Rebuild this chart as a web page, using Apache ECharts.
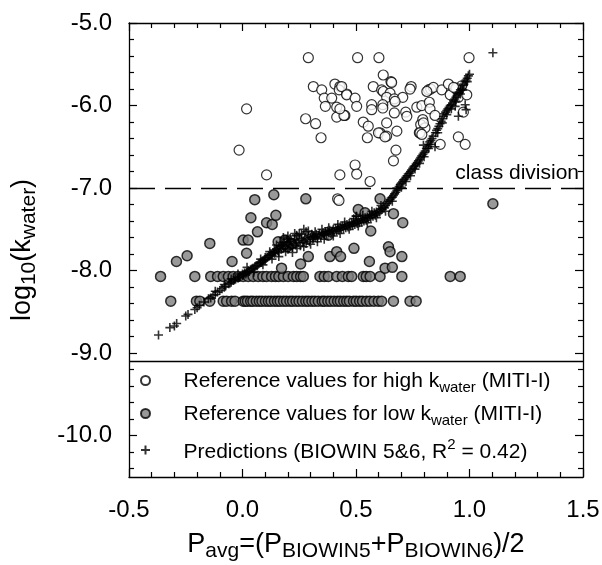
<!DOCTYPE html>
<html><head><meta charset="utf-8">
<script src="https://cdn.jsdelivr.net/npm/echarts@6/dist/echarts.min.js"></script>
<style>html,body{margin:0;padding:0;background:#fff}#c{width:602px;height:565px}</style>
</head><body><div id="c"></div>
<script>
const FONT = 'Liberation Sans, Arial, Helvetica, sans-serif';

// axis ticks
const xRange = [-0.5, 1.5];
const yRange = [-10.5, -5.0];
const xMajorTicks = [-0.5, 0.0, 0.5, 1.0, 1.5];
const xMinorTicks = [-0.4, -0.3, -0.2, -0.1, 0.1, 0.2, 0.3, 0.4, 0.6, 0.7, 0.8, 0.9,
  1.1, 1.2, 1.3, 1.4];
const yMajorTicks = [-10, -9, -8, -7, -6, -5];
const yMinorTicks = [-10.4, -10.2, -9.8, -9.6, -9.4, -9.2, -8.8, -8.6, -8.4, -8.2,
  -7.8, -7.6, -7.4, -7.2, -6.8, -6.6, -6.4, -6.2, -5.8, -5.6, -5.4, -5.2];

// reference lines
const classDivision = -7.0;
const legendSeparator = -9.1;

// Reference values for high k_water (open circles)
const highK = [
  [0.290,-5.42],[0.507,-5.42],[0.601,-5.42],[0.998,-5.42],
  [0.312,-5.77],[0.349,-5.81],[0.360,-5.91],[0.365,-6.01],[0.393,-5.91],[0.407,-5.74],
  [0.429,-5.77],[0.426,-5.81],[0.459,-5.86],[0.415,-6.02],[0.415,-6.14],[0.451,-6.12],
  [0.278,-6.16],[0.322,-6.22],[0.346,-6.39],
  [0.018,-6.04],[-0.015,-6.54],[0.106,-6.84],[0.429,-6.84],[0.419,-7.13],[0.425,-7.15],
  [0.620,-5.63],[0.654,-5.71],[0.576,-5.77],[0.613,-5.81],[0.620,-5.83],[0.650,-5.85],
  [0.743,-5.77],[0.738,-5.80],
  [0.437,-5.77],[0.459,-5.87],[0.496,-5.91],[0.503,-6.01],
  [0.635,-5.90],[0.669,-5.92],[0.706,-5.90],
  [0.569,-5.99],[0.569,-6.05],[0.618,-5.99],[0.618,-6.03],
  [0.669,-6.09],[0.719,-6.08],[0.724,-6.13],
  [0.768,-6.02],[0.790,-6.00],[0.823,-5.96],[0.826,-6.04],
  [0.819,-5.81],[0.829,-5.80],[0.841,-5.78],[0.878,-5.81],
  [0.907,-5.74],[0.915,-5.87],[0.944,-5.81],[0.951,-5.90],[0.988,-5.87],[0.966,-5.76],
  [0.447,-6.12],[0.429,-6.04],
  [0.532,-6.20],[0.554,-6.25],[0.550,-6.39],
  [0.606,-6.33],[0.635,-6.37],[0.635,-6.21],[0.680,-6.31],
  [0.676,-6.54],[0.665,-6.67],
  [0.794,-6.17],[0.785,-6.23],[0.779,-6.33],[0.804,-6.27],
  [0.848,-6.12],[0.871,-6.47],
  [0.973,-6.08],[0.951,-6.38],[0.981,-6.47],
  [0.496,-6.72],[0.503,-6.83],[0.562,-6.92],
  [0.657,-5.72],[0.672,-5.95],[0.599,-6.33],[0.628,-6.38],[0.782,-6.33],[0.790,-6.35],
  [0.812,-5.83],[0.797,-6.21],[0.940,-5.79],[0.930,-5.78]
];

// Reference values for low k_water (grey circles): upper band row
const lowKBandUpper = [
  [-0.361,-8.07],[-0.210,-8.07],[-0.140,-8.07],[-0.110,-8.07],[-0.085,-8.07],[-0.062,-8.07],
  [-0.041,-8.07],[-0.019,-8.07],[0.003,-8.07],[0.025,-8.07],[0.047,-8.07],[0.069,-8.07],
  [0.090,-8.07],[0.106,-8.07],[0.128,-8.07],[0.145,-8.07],[0.160,-8.07],[0.180,-8.07],
  [0.201,-8.07],[0.224,-8.07],[0.239,-8.07],[0.256,-8.07],[0.268,-8.07],[0.341,-8.07],
  [0.360,-8.07],[0.378,-8.07],[0.415,-8.07],[0.440,-8.07],[0.466,-8.07],[0.481,-8.07],
  [0.532,-8.07],[0.545,-8.07],[0.562,-8.07],[0.606,-8.07],[0.702,-8.07],[0.915,-8.07],[0.959,-8.07]
];
// lower band row
const lowKBandLower = [
  [-0.316,-8.37],[-0.203,-8.37],[-0.188,-8.37],[-0.144,-8.37],[-0.085,-8.37],[-0.070,-8.37],
  [-0.048,-8.37],[-0.033,-8.37],[0.003,-8.37],[0.012,-8.37],[0.022,-8.37],[0.036,-8.37],
  [0.046,-8.37],[0.061,-8.37],[0.074,-8.37],[0.086,-8.37],[0.101,-8.37],[0.114,-8.37],
  [0.126,-8.37],[0.141,-8.37],[0.154,-8.37],[0.166,-8.37],[0.181,-8.37],[0.194,-8.37],
  [0.209,-8.37],[0.221,-8.37],[0.236,-8.37],[0.249,-8.37],[0.264,-8.37],[0.279,-8.37],
  [0.291,-8.37],[0.306,-8.37],[0.319,-8.37],[0.334,-8.37],[0.351,-8.37],[0.361,-8.37],
  [0.376,-8.37],[0.389,-8.37],[0.404,-8.37],[0.419,-8.37],[0.431,-8.37],[0.446,-8.37],
  [0.459,-8.37],[0.471,-8.37],[0.489,-8.37],[0.501,-8.37],[0.516,-8.37],[0.529,-8.37],
  [0.546,-8.37],[0.561,-8.37],[0.579,-8.37],[0.598,-8.37],[0.613,-8.37],[0.665,-8.37],
  [0.738,-8.37],[0.765,-8.37]
];
// scattered grey circles
const lowKScatter = [
  [0.054,-7.14],[0.138,-7.08],[0.279,-7.13],[0.606,-7.13],
  [-0.291,-7.89],[-0.244,-7.82],[-0.144,-7.67],[-0.046,-7.89],
  [0.003,-7.63],[0.025,-7.63],[0.037,-7.36],[0.066,-7.53],[0.018,-7.79],
  [0.106,-7.42],[0.131,-7.44],[0.147,-7.33],[0.172,-7.97],
  [0.157,-7.65],[0.187,-7.63],[0.197,-7.71],[0.216,-7.67],
  [0.256,-7.92],[0.290,-7.83],[0.385,-7.83],[0.415,-7.77],[0.432,-7.83],
  [0.378,-7.57],[0.491,-7.73],[0.559,-7.89],[0.565,-7.52],
  [0.643,-7.71],[0.650,-7.77],[0.628,-7.97],[0.660,-7.96],
  [0.665,-7.31],[0.706,-7.42],[0.510,-7.26],[0.540,-7.30],
  [0.702,-7.83],[1.103,-7.19]
];

// Predictions (BIOWIN 5&6) – plus markers
const predictions = [
  [-0.37,-8.78],[-0.32,-8.69],[-0.30,-8.67],[-0.29,-8.64],[-0.25,-8.55],[-0.24,-8.53],
  [-0.21,-8.47],[-0.20,-8.45],[-0.19,-8.42],[-0.17,-8.38],[-0.15,-8.34],[-0.14,-8.33],
  [-0.13,-8.30],[-0.12,-8.29],[-0.11,-8.26],[-0.10,-8.24],[-0.09,-8.22],[-0.08,-8.20],
  [-0.075,-8.19],[-0.06,-8.16],[-0.055,-8.15],[-0.05,-8.14],[-0.04,-8.12],[-0.035,-8.11],
  [-0.03,-8.10],[-0.02,-8.09],[-0.015,-8.08],[-0.01,-8.07],[0.0,-8.06],[0.0,-8.04],
  [0.005,-8.05],[0.01,-8.03],[0.015,-8.04],[0.02,-8.02],[0.025,-8.00],[0.03,-8.01],
  [0.035,-7.99],[0.04,-7.98],[0.045,-7.97],[0.05,-7.97],[0.055,-7.95],[0.06,-7.94],
  [0.065,-7.94],[0.07,-7.92],[0.075,-7.91],[0.08,-7.90],[0.085,-7.90],[0.09,-7.88],
  [0.095,-7.87],[0.10,-7.87],[0.10,-7.84],[0.105,-7.85],[0.11,-7.84],[0.115,-7.82],
  [0.12,-7.82],[0.125,-7.80],[0.13,-7.81],[0.135,-7.78],[0.14,-7.79],[0.14,-7.75],
  [0.145,-7.77],[0.15,-7.74],[0.155,-7.76],[0.16,-7.72],[0.16,-7.78],[0.165,-7.70],
  [0.17,-7.74],[0.175,-7.69],[0.18,-7.73],[0.185,-7.66],[0.19,-7.71],[0.195,-7.62],
  [0.20,-7.68],[0.20,-7.74],[0.205,-7.65],[0.21,-7.70],[0.215,-7.64],[0.22,-7.72],
  [0.225,-7.67],[0.23,-7.62],[0.235,-7.69],[0.24,-7.58],[0.245,-7.66],[0.25,-7.63],
  [0.255,-7.70],[0.26,-7.61],[0.265,-7.66],[0.27,-7.64],[0.275,-7.60],[0.28,-7.53],
  [0.28,-7.67],[0.285,-7.62],[0.29,-7.58],[0.295,-7.65],[0.30,-7.60],[0.305,-7.56],
  [0.31,-7.62],[0.31,-7.59],[0.315,-7.58],[0.32,-7.60],[0.325,-7.56],[0.33,-7.61],
  [0.335,-7.57],[0.34,-7.55],[0.345,-7.59],[0.35,-7.56],[0.355,-7.54],[0.36,-7.57],
  [0.365,-7.53],[0.37,-7.56],[0.375,-7.52],[0.38,-7.54],[0.385,-7.51],[0.39,-7.55],
  [0.395,-7.52],[0.40,-7.50],[0.405,-7.53],[0.41,-7.49],[0.415,-7.52],[0.42,-7.48],
  [0.425,-7.51],[0.43,-7.47],[0.435,-7.50],[0.44,-7.46],[0.445,-7.49],[0.45,-7.45],
  [0.455,-7.48],[0.46,-7.44],[0.465,-7.47],[0.47,-7.43],[0.475,-7.46],[0.48,-7.42],
  [0.485,-7.45],[0.49,-7.41],[0.495,-7.44],[0.50,-7.34],[0.50,-7.40],[0.505,-7.43],
  [0.51,-7.39],[0.515,-7.42],[0.52,-7.38],[0.525,-7.41],[0.53,-7.37],[0.535,-7.40],
  [0.54,-7.36],[0.545,-7.39],[0.55,-7.35],[0.555,-7.37],[0.56,-7.33],[0.565,-7.36],
  [0.57,-7.32],[0.575,-7.34],[0.58,-7.30],[0.585,-7.33],[0.59,-7.29],[0.595,-7.31],
  [0.60,-7.27],[0.605,-7.29],[0.61,-7.25],[0.615,-7.26],[0.62,-7.23],[0.625,-7.24],
  [0.63,-7.21],[0.635,-7.19],[0.64,-7.18],[0.645,-7.16],[0.65,-7.14],[0.655,-7.12],
  [0.66,-7.11],[0.665,-7.09],[0.67,-7.07],[0.675,-7.05],[0.68,-7.03],[0.685,-7.01],
  [0.69,-6.98],[0.695,-6.96],[0.70,-6.94],[0.705,-6.92],[0.71,-6.90],[0.715,-6.89],
  [0.72,-6.87],[0.725,-6.85],[0.73,-6.83],[0.735,-6.82],[0.74,-6.80],[0.745,-6.78],
  [0.75,-6.76],[0.755,-6.74],[0.76,-6.73],[0.765,-6.71],[0.77,-6.69],[0.775,-6.67],
  [0.78,-6.65],[0.785,-6.63],[0.79,-6.61],[0.795,-6.59],[0.80,-6.57],[0.797,-6.48],
  [0.805,-6.55],[0.81,-6.52],[0.815,-6.50],[0.82,-6.52],[0.82,-6.47],[0.825,-6.44],
  [0.83,-6.42],[0.835,-6.40],[0.84,-6.37],[0.848,-6.50],[0.85,-6.33],[0.855,-6.30],
  [0.86,-6.28],[0.865,-6.25],[0.87,-6.22],[0.875,-6.19],[0.88,-6.16],[0.885,-6.13],
  [0.89,-6.10],[0.895,-6.08],[0.90,-6.06],[0.905,-6.04],[0.91,-6.02],[0.915,-6.00],
  [0.92,-5.99],[0.925,-5.97],[0.93,-5.94],[0.935,-5.92],[0.937,-6.01],[0.94,-5.90],
  [0.945,-5.88],[0.95,-5.86],[0.951,-6.13],[0.955,-5.84],[0.96,-5.81],[0.965,-5.79],
  [0.97,-5.76],[0.975,-5.74],[0.98,-5.71],[0.981,-5.99],[0.985,-5.69],[0.985,-6.05],
  [0.99,-5.67],[0.995,-5.64],[1.0,-5.62],[1.103,-5.36],
  [0.238,-7.57],[0.312,-7.59],[0.503,-7.34],[0.488,-7.42],
  [0.02,-7.96],[0.05,-8.02],[0.08,-7.86],[0.09,-7.93],[0.12,-7.77],[0.13,-7.86],
  [0.15,-7.69],[0.16,-7.83],[0.17,-7.66],[0.19,-7.77],[0.21,-7.61],[0.22,-7.78],
  [0.23,-7.55],[0.24,-7.73],[0.26,-7.56],[0.27,-7.71],[0.29,-7.52],[0.30,-7.68],
  [0.32,-7.53],[0.33,-7.65],[0.35,-7.50],[0.36,-7.62],[0.38,-7.48],[0.40,-7.58],
  [0.42,-7.44],[0.43,-7.55],[0.45,-7.41],[0.47,-7.50],[0.49,-7.37],[0.51,-7.46],
  [0.53,-7.33],[0.55,-7.42],[0.57,-7.28],[0.59,-7.36],[0.61,-7.21],[0.63,-7.28],
  [0.66,-7.16],[0.68,-7.00],[0.70,-6.99],[0.72,-6.92],[0.74,-6.85],[0.76,-6.77],
  [0.78,-6.70],[0.80,-6.62],[0.83,-6.47],[0.86,-6.33],[0.88,-6.21],[0.90,-6.11],
  [0.92,-6.04],[0.94,-5.95],[0.96,-5.86],[0.97,-5.81],[0.99,-5.71],[-0.02,-8.04],
  [-0.05,-8.10],[-0.08,-8.17],[-0.12,-8.25],[0.18,-7.60],[0.20,-7.58],[0.25,-7.55],[0.27,-7.50]
];

const legendLabels = {
  high: '{m|Reference values for high k}{s|water}{m| (MITI-I)}',
  low: '{m|Reference values for low k}{s|water}{m| (MITI-I)}',
  pred: '{m|Predictions (BIOWIN 5&6, R}{p|2}{m| = 0.42)}'
};
const xTitle = '{m|P}{s|avg}{m|=(P}{s|BIOWIN5}{m|+P}{s|BIOWIN6}{m|)/2}';
const yTitle = '{m|log}{s|10}{m|(k}{s|water}{m|)}';
const plusPath = 'path://M5,0L5,10M0,5L10,5';

const black = '#000';
const axisLineOn = { show: true, onZero: false, lineStyle: { color: black, width: 1.3 } };
const axisLineOff = { show: false, onZero: false };
const titleRich = {
  m: { fontSize: 27, fontFamily: FONT, color: black, verticalAlign: 'top', padding: [0, 0, 0, 0] },
  s: { fontSize: 21, fontFamily: FONT, color: black, verticalAlign: 'top', padding: [10, 0, 0, 0] }
};

function yAx(pos, major, withLabel) {
  const a = {
    type: 'value', min: yRange[0], max: yRange[1], position: pos,
    axisLine: major ? axisLineOn : axisLineOff,
    axisTick: { show: true, inside: true, length: major ? 8 : 5,
      customValues: major ? yMajorTicks : yMinorTicks, lineStyle: { color: black, width: 1.2 } },
    axisLabel: withLabel ? { show: true, customValues: yMajorTicks, formatter: v => v.toFixed(1),
      fontSize: 24, fontFamily: FONT, color: black, margin: 17 } : { show: false },
    splitLine: { show: false }
  };
  if (withLabel) {
    a.name = yTitle; a.nameLocation = 'middle'; a.nameGap = 89;
    a.nameTextStyle = { rich: titleRich };
  }
  return a;
}
function xAx(pos, major, withLabel) {
  const a = {
    type: 'value', min: xRange[0], max: xRange[1], position: pos,
    axisLine: major ? axisLineOn : axisLineOff,
    axisTick: { show: true, inside: true, length: major ? 8 : 5,
      customValues: major ? xMajorTicks : xMinorTicks, lineStyle: { color: black, width: 1.2 } },
    axisLabel: withLabel ? { show: true, customValues: xMajorTicks, formatter: v => v.toFixed(1),
      fontSize: 24, fontFamily: FONT, color: black, margin: 21 } : { show: false },
    splitLine: { show: false }
  };
  if (withLabel) {
    a.name = xTitle; a.nameLocation = 'middle'; a.nameGap = 54;
    a.nameTextStyle = { rich: titleRich };
  }
  return a;
}

const chart = echarts.init(document.getElementById('c'), null, { renderer: 'canvas' });
chart.setOption({
  animation: false,
  backgroundColor: '#fff',
  textStyle: { fontFamily: FONT },
  grid: { left: 129, right: 19, top: 23, bottom: 88, containLabel: false, outerBoundsMode: 'none' },
  xAxis: [xAx('bottom', true, true), xAx('bottom', false, false), xAx('top', true, false), xAx('top', false, false)],
  yAxis: [yAx('left', true, true), yAx('left', false, false), yAx('right', true, false), yAx('right', false, false)],
  legend: {
    show: true, orient: 'vertical', left: 140, top: 371, itemWidth: 66, itemHeight: 9, itemGap: 9,
    padding: 0, selectedMode: false, symbolKeepAspect: true,
    data: [{ name: 'high', icon: 'circle' }, { name: 'low', icon: 'circle' }, { name: 'pred', icon: plusPath }],
    formatter: n => legendLabels[n],
    textStyle: {
      fontSize: 21, fontFamily: FONT, color: black,
      rich: {
        m: { fontSize: 21, fontFamily: FONT, color: black, verticalAlign: 'top', padding: [5, 0, 0, 0] },
        s: { fontSize: 15, fontFamily: FONT, color: black, verticalAlign: 'top', padding: [14, 0, 0, 0] },
        p: { fontSize: 15, fontFamily: FONT, color: black, verticalAlign: 'top', padding: [0, 0, 0, 0] }
      }
    }
  },
  series: [
    {
      name: 'high', type: 'scatter', data: highK, symbol: 'circle', symbolSize: 10,
      itemStyle: { color: '#fff', borderColor: black, borderWidth: 1.2 },
      emphasis: { disabled: true }, z: 3,
      markLine: {
        silent: true, symbol: 'none', animation: false,
        data: [
          { yAxis: classDivision, lineStyle: { color: black, width: 1.3, type: [26, 10] },
            label: { show: true, position: 'insideEndTop', formatter: 'class division', fontSize: 21,
              fontFamily: FONT, color: black, distance: 4 } },
          { yAxis: legendSeparator, lineStyle: { color: black, width: 1.3, type: 'solid' }, label: { show: false } }
        ]
      }
    },
    {
      name: 'low', type: 'scatter', data: lowKBandUpper.concat(lowKBandLower, lowKScatter),
      symbol: 'circle', symbolSize: 10,
      itemStyle: { color: '#808080', borderColor: black, borderWidth: 1.5 },
      emphasis: { disabled: true }, z: 4
    },
    {
      name: 'pred', type: 'scatter', data: predictions, symbol: plusPath, symbolSize: 9,
      itemStyle: { color: black, borderColor: black, borderWidth: 1.6 },
      emphasis: { disabled: true }, z: 5
    }
  ]
});
</script></body></html>
